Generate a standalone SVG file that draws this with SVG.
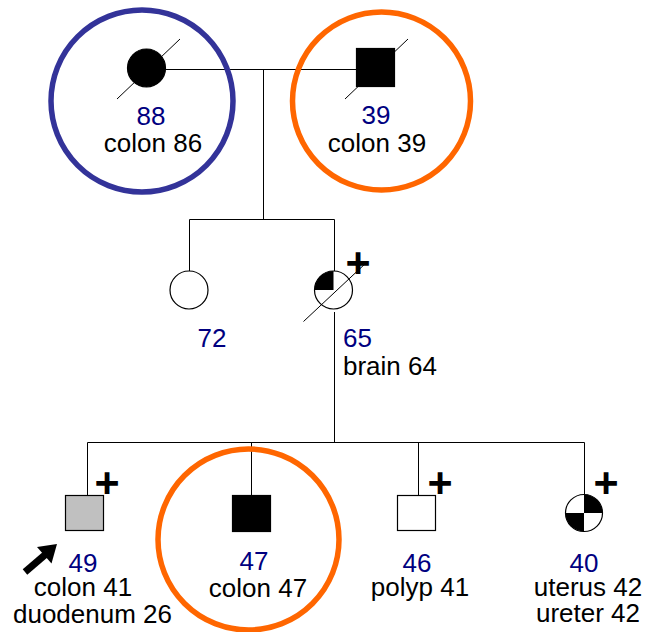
<svg xmlns="http://www.w3.org/2000/svg" width="645" height="632" viewBox="0 0 645 632">
  <style>
    .line { stroke: #000; stroke-width: 1; fill: none; }
    .sym { stroke: #000; stroke-width: 1.2; }
    .ring-blue { fill: none; stroke: #333399; stroke-width: 5.5; }
    .ring-orange { fill: none; stroke: #FF6600; stroke-width: 5.5; }
    .age { font-family: "Liberation Sans", Arial, sans-serif; font-size: 26px; fill: #000080; }
    .dx { font-family: "Liberation Sans", Arial, sans-serif; font-size: 26px; fill: #000; }
    .mid { text-anchor: middle; }
    .plus { font-family: "Liberation Sans", Arial, sans-serif; font-size: 43px; font-weight: bold; fill: #000; text-anchor: middle; }
  </style>

  <rect width="645" height="632" fill="#fff"/>

  <!-- connectors -->
  <g id="connectors">
    <path class="line" d="M165,69.5 H356"/>
    <path class="line" d="M263.5,69.5 V219.5"/>
    <path class="line" d="M189.5,219.5 H334.5"/>
    <path class="line" d="M189.5,219.5 V271"/>
    <path class="line" d="M334.5,219.5 V271"/>
    <path class="line" d="M334.5,312 V442.5"/>
    <path class="line" d="M87.5,442.5 H584.5"/>
    <path class="line" d="M87.5,442.5 V495"/>
    <path class="line" d="M251.5,442.5 V495"/>
    <path class="line" d="M418.5,442.5 V495"/>
    <path class="line" d="M584.5,442.5 V494.5"/>
  </g>

  <!-- grandmother -->
  <g id="grandmother">
    <circle class="ring-blue" cx="142" cy="101" r="91"/>
    <circle class="sym" cx="146.5" cy="68" r="19" fill="#000"/>
    <line class="line" x1="117" y1="99" x2="180" y2="39"/>
    <text class="age mid" x="151" y="125">88</text>
    <text class="dx mid" x="153" y="152">colon 86</text>
  </g>

  <!-- grandfather -->
  <g id="grandfather">
    <circle class="ring-orange" cx="381.5" cy="101" r="89"/>
    <rect class="sym" x="356.5" y="48.5" width="38" height="38" fill="#000"/>
    <line class="line" x1="345" y1="99" x2="408" y2="39"/>
    <text class="age mid" x="376" y="124">39</text>
    <text class="dx mid" x="377" y="152">colon 39</text>
  </g>

  <!-- aunt -->
  <g id="aunt">
    <circle class="sym" cx="189" cy="290" r="19" fill="#fff"/>
    <text class="age mid" x="212" y="347">72</text>
  </g>

  <!-- mother -->
  <g id="mother">
    <circle class="sym" cx="333.5" cy="290" r="19" fill="#fff"/>
    <path d="M333.5,290 L314.5,290 A19,19 0 0 1 333.5,271 Z" fill="#000"/>
    <line class="line" x1="303.5" y1="321.5" x2="366.5" y2="262.5"/>
    <text class="plus" x="358" y="277">+</text>
    <text class="age" x="343" y="347">65</text>
    <text class="dx" x="343" y="375">brain 64</text>
  </g>

  <!-- proband -->
  <g id="proband">
    <rect class="sym" x="65.5" y="495.5" width="38" height="35" fill="#c0c0c0"/>
    <text class="plus" x="107" y="497">+</text>
    <line x1="25" y1="572" x2="46" y2="554" stroke="#000" stroke-width="7"/>
    <polygon points="57,544 37,547 51.5,563.5" fill="#000"/>
    <text class="age mid" x="83" y="572">49</text>
    <text class="dx mid" x="83" y="596">colon 41</text>
    <text class="dx mid" x="92.5" y="623">duodenum 26</text>
  </g>

  <!-- brother 47 -->
  <g id="brother47">
    <circle class="ring-orange" cx="248.5" cy="539.5" r="90.5"/>
    <rect class="sym" x="232.5" y="495.5" width="38" height="36" fill="#000"/>
    <text class="age mid" x="254" y="570">47</text>
    <text class="dx mid" x="258" y="597">colon 47</text>
  </g>

  <!-- brother 46 -->
  <g id="brother46">
    <rect class="sym" x="397.5" y="495.5" width="38" height="35" fill="#fff"/>
    <text class="plus" x="440" y="497">+</text>
    <text class="age mid" x="417" y="572">46</text>
    <text class="dx mid" x="420" y="596">polyp 41</text>
  </g>

  <!-- sister 40 -->
  <g id="sister40">
    <circle class="sym" cx="584" cy="513" r="18.5" fill="#fff"/>
    <path d="M584,513 L584,494.5 A18.5,18.5 0 0 1 602.5,513 Z" fill="#000"/>
    <path d="M584,513 L584,531.5 A18.5,18.5 0 0 1 565.5,513 Z" fill="#000"/>
    <text class="plus" x="606" y="497">+</text>
    <text class="age mid" x="584" y="572">40</text>
    <text class="dx mid" x="588" y="596">uterus 42</text>
    <text class="dx mid" x="588" y="622">ureter 42</text>
  </g>
</svg>
